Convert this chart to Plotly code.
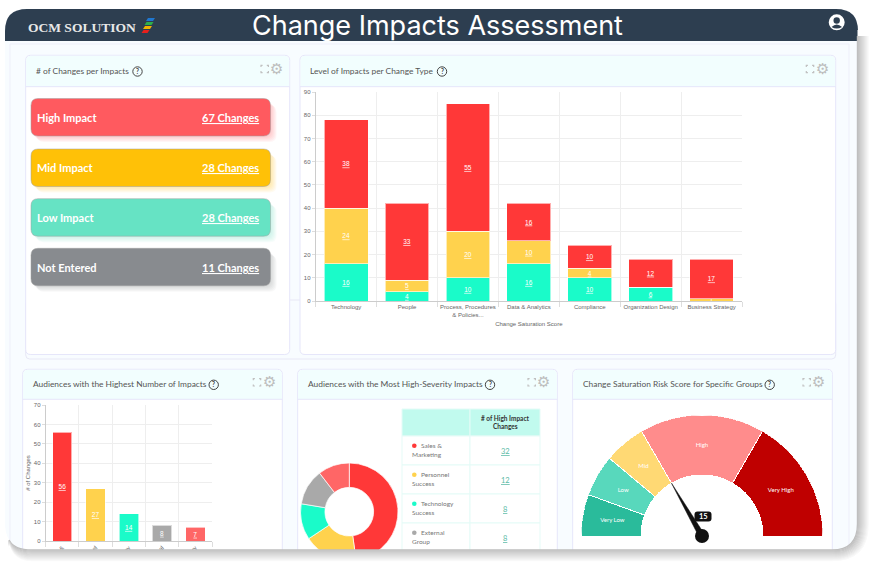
import plotly.graph_objects as go

W, H = 869, 562
RED, YELLOW, TEAL, GRAY, PINK = "#ff3838", "#ffd24d", "#1afbc9", "#a9a9a9", "#ff6666"
FONT = "Lato, sans-serif"

# KPI cards
card_labels = ["High Impact", "Mid Impact", "Low Impact", "Not Entered"]
card_counts = [67, 28, 28, 11]
card_colors = ["#ff5a5f", "#ffc107", "#66e3c4", "#888b8f"]

# stacked chart
change_types = ["Technology", "People", "Process, Procedures<br>& Policies...", "Data & Analytics",
                "Compliance", "Organization Design", "Business Strategy"]
low_impact = [16, 4, 10, 16, 10, 6, 0]
mid_impact = [24, 5, 20, 10, 4, 0, 1]
high_impact = [38, 33, 55, 16, 10, 12, 17]

# audience bars
audiences = ["Sales &", "Personnel", "Technology", "External", "Treasury"]
audience_changes = [56, 27, 14, 8, 7]

# donut and its table
severity_first = ["Sales &", "Personnel", "Technology", "External"]
severity_second = ["Marketing", "Success", "Success", "Group"]
severity_counts = [32, 12, 8, 8, 7]
severity_colors = [RED, YELLOW, TEAL, GRAY, PINK]

# gauge
band_names = ["Very Low", "Low", "Mid", "High", "Very High"]
band_starts = [0, 5, 10, 15, 30]
band_ends = [5, 10, 15, 30, 45]
band_colors = ["#2abb9b", "#58d8bc", "#ffd974", "#ff8c8c", "#bf0000"]
gauge_value = 15
gauge_max = 45


def px(x):
    return x / W


def py(y):
    return 1 - y / H


def rrect(x0, y0, x1, y1, r, r_bottom=None):
    rb = r if r_bottom is None else r_bottom
    X = [px(v) for v in (x0, x0 + r, x1 - r, x1)]
    Y = [py(v) for v in (y0, y0 + r)]
    Xb = [px(v) for v in (x0, x0 + rb, x1 - rb, x1)]
    Yb = [py(v) for v in (y1 - rb, y1)]
    p = f"M {X[1]} {Y[0]} L {X[2]} {Y[0]} Q {X[3]} {Y[0]} {X[3]} {Y[1]} "
    p += f"L {Xb[3]} {Yb[0]} Q {Xb[3]} {Yb[1]} {Xb[2]} {Yb[1]} "
    p += f"L {Xb[1]} {Yb[1]} Q {Xb[0]} {Yb[1]} {Xb[0]} {Yb[0]} "
    p += f"L {X[0]} {Y[1]} Q {X[0]} {Y[0]} {X[1]} {Y[0]} Z"
    return p


def box(x0, y0, x1, y1, r=0, fill="white", line="rgba(0,0,0,0)", lw=1, layer="below", rb=None):
    return dict(type="path", path=rrect(x0, y0, x1, y1, r, rb), xref="paper", yref="paper",
                fillcolor=fill, line=dict(color=line, width=lw), layer=layer)


def circle(cx, cy, r, fill="rgba(0,0,0,0)", line="rgba(0,0,0,0)", lw=1, layer="below"):
    return dict(type="circle", xref="paper", yref="paper", x0=px(cx - r), x1=px(cx + r),
                y0=py(cy + r), y1=py(cy - r), fillcolor=fill, line=dict(color=line, width=lw), layer=layer)


def label(x, y, text, size=9, color="#555", anchor="left", font=FONT, **kw):
    # annotations carry a little padding, take it back so text lands where it was measured
    shift = {"left": -2, "right": 1.5, "center": 0}[anchor]
    return dict(x=px(x + shift), y=py(y), xref="paper", yref="paper", text=text, showarrow=False,
                xanchor=anchor, yanchor="middle", font=dict(size=size, color=color, family=font), **kw)


def slanted(x, y, w, color):
    p = f"M {px(x + 2)} {py(y)} L {px(x + w + 2)} {py(y)} L {px(x + w)} {py(y + 3)} L {px(x)} {py(y + 3)} Z"
    return dict(type="path", path=p, xref="paper", yref="paper", fillcolor=color,
                line=dict(color=color, width=0), layer="below")


shapes, notes = [], []

# main frame
shapes.append(box(5, 9, 858, 570, 22, fill="#f8fcff", rb=0))
shapes.append(box(10, 44, 849, 570, 0, fill="#f8fcff", line="#eeeffa"))
shapes.append(box(5, 9, 858, 41, 22, fill="#2d3e50", rb=0))
notes.append(label(28, 27, "<b>OCM SOLUTION</b>", 13.5, "#e8e8e8", font="Liberation Serif"))
notes.append(label(437.5, 25, "Change Impacts Assessment", 27, "white", "center", font="Inter, sans-serif"))
for lx, ly, lw_, lc in [(146, 18, 7, "#1f77d0"), (144.5, 22, 7, "#2eb04a"), (143, 26, 7, "#f0b400"), (141.5, 30, 6, "#e8201c")]:
    shapes.append(slanted(lx, ly, lw_, lc))
shapes.append(circle(836.7, 22.3, 8, fill="white"))
shapes.append(circle(836.7, 20.5, 3.2, fill="#2d3e50"))
shapes.append(dict(type="path", xref="paper", yref="paper", fillcolor="#2d3e50", line=dict(width=0), layer="below",
                   path=f"M {px(831.5)} {py(27)} Q {px(836.7)} {py(22)} {px(842)} {py(27)} Q {px(836.7)} {py(30)} {px(831.5)} {py(27)} Z"))

# panels: x0, y0, x1, y1, header bottom, title, help x
panels = [
    (25.7, 55.3, 289.7, 354.5, 86.7, "# of Changes per Impacts", 137.5, 264.7),
    (300, 55.3, 835.7, 354.5, 86.7, "Level of Impacts per Change Type", 442, 810),
    (22.7, 369.3, 282.3, 570, 399.3, "Audiences with the Highest Number of Impacts", 213.7, 257),
    (297.7, 369.3, 557.3, 570, 399.3, "Audiences with the Most High-Severity Impacts", 490, 531.7),
    (572.7, 369.3, 832.3, 570, 399.3, "Change Saturation Risk Score for Specific Groups", 769.7, 806.7),
]
shapes.append(box(25.7, 300, 835.7, 359, 4, fill="#f8fcff", line="#e8e8f6"))
for x0, y0, x1, y1, hb, title, qx, fx in panels:
    shapes.append(box(x0, y0, x1, y1, 5, fill="white", line="#e6e6fa"))
    shapes.append(box(x0 + 0.5, y0 + 0.5, x1 - 0.5, hb, 5, fill="#f2fefe", rb=0))
    shapes.append(dict(type="line", xref="paper", yref="paper", x0=px(x0), x1=px(x1), y0=py(hb), y1=py(hb),
                       line=dict(color="#e6e6fa", width=1), layer="below"))
    ty = (y0 + hb) / 2
    notes.append(label(x0 + 10, ty, title, 8.4, "#555"))
    shapes.append(circle(qx, ty + 0.5, 4.7, line="#444"))
    notes.append(label(qx, ty + 0.5, "<b>?</b>", 6.5, "#444", "center"))
    # fullscreen corners and gear
    fy = ty - 2
    b, c = 3.7, 1.6
    corners = ""
    for sx in (-1, 1):
        for sy in (-1, 1):
            corners += (f"M {px(fx + sx * (b - c))} {py(fy + sy * b)} L {px(fx + sx * b)} {py(fy + sy * b)} "
                        f"L {px(fx + sx * b)} {py(fy + sy * (b - c))} ")
    shapes.append(dict(type="path", path=corners, xref="paper", yref="paper", layer="below",
                       line=dict(color="#c0c0c0", width=1.2)))
    notes.append(label(fx + 12, fy, "\u2699", 15, "#bdbdbd", "center", font="DejaVu Sans"))

# KPI cards
card_tops = [98.5, 149, 198.7, 248.3]
for name, n, col, top in zip(card_labels, card_counts, card_colors, card_tops):
    for k in range(6, 0, -1):
        shapes.append(box(31 + k, top + k + 1, 270.5 + k, top + 37.5 + k, 7, fill=col, layer="below"))
        shapes[-1]["opacity"] = 0.05
    shapes.append(box(31, top, 270.5, top + 37.5, 7, fill=col, line="rgba(160,160,160,0.5)"))
    notes.append(label(37, top + 18.7, f"<b>{name}</b>", 11, "white"))
    notes.append(label(259.5, top + 18.7, f"<b><u>{n} Changes</u></b>", 11, "white", "right"))

# table next to the donut
shapes.append(box(402, 409, 470, 436, fill="#c1faee", line="#e5fbf7"))
shapes.append(box(470, 409, 540, 436, fill="#c1faee", line="#e5fbf7"))
notes.append(label(505, 418, "<b># of High Impact</b>", 6.5, "#333", "center"))
notes.append(label(505, 426.3, "<b>Changes</b>", 6.5, "#333", "center"))
row_h = 29
for i, (first, second, n, col) in enumerate(zip(severity_first, severity_second, severity_counts, severity_colors)):
    top = 436 + i * row_h
    shapes.append(box(402, top, 470, top + row_h, fill="white", line="#e5fbf7"))
    shapes.append(box(470, top, 540, top + row_h, fill="white", line="#e5fbf7"))
    shapes.append(circle(414.3, top + 9.7, 2.3, fill=col))
    notes.append(label(421, top + 9.7, first, 6.5, "#777"))
    notes.append(label(412, top + 18.7, second, 6.5, "#777"))
    notes.append(label(505, top + 15, f"<u>{n}</u>", 7.5, "#58b9a5", "center"))

# gauge value box
shapes.append(box(694.5, 511.5, 711.5, 521.5, 3, fill="#111", layer="above"))
notes.append(label(703, 516.7, "<b>15</b>", 7.5, "white", "center"))

# bottom and right edge of the frame: mask plus fading shadow
mask = (f"M {px(0)} {py(562)} L {px(0)} {py(526)} L {px(5)} {py(526)} Q {px(7)} {py(550)} {px(32)} {py(550)} "
        f"L {px(832)} {py(550)} Q {px(857.5)} {py(550)} {px(857.5)} {py(524)} L {px(857.5)} {py(30)} "
        f"L {px(869)} {py(30)} L {px(869)} {py(562)} Z")
shapes.append(dict(type="path", path=mask, xref="paper", yref="paper", fillcolor="white",
                   line=dict(width=0), layer="above"))
for i in range(13):
    g = 190 + int(65 * i / 12)
    edge = (f"M {px(9)} {py(540 + i * 0.5)} Q {px(14)} {py(550 + i)} {px(32)} {py(550 + i)} L {px(832)} {py(550 + i)} "
            f"Q {px(857.5 + i)} {py(550 + i)} {px(857.5 + i)} {py(524)} L {px(857.5 + i)} {py(36)}")
    shapes.append(dict(type="path", path=edge, xref="paper", yref="paper", layer="above",
                       line=dict(color=f"rgb({g},{g},{g})", width=1.4)))

fig = go.Figure()


def underlined(vals):
    return [f"<u>{v}</u>" if v else "" for v in vals]


for vals, col, name in [(low_impact, TEAL, "Low"), (mid_impact, YELLOW, "Mid"), (high_impact, RED, "High")]:
    fig.add_trace(go.Bar(
        x=change_types, y=vals, name=name, width=0.72, text=underlined(vals),
        marker=dict(color=col, line=dict(color="rgba(255,255,255,0.6)", width=1)),
        textposition="inside", insidetextanchor="middle", textangle=0, constraintext="none",
        insidetextfont=dict(size=6.5, color="white", family="Liberation Sans"),
        xaxis="x", yaxis="y", hoverinfo="skip",
    ))

fig.add_trace(go.Bar(
    x=audiences, y=audience_changes, width=0.58, text=underlined(audience_changes),
    marker=dict(color=severity_colors, line=dict(color="rgba(255,255,255,0.6)", width=1)),
    textposition="inside", insidetextanchor="middle", textangle=0, constraintext="none",
    insidetextfont=dict(size=6.5, color="white", family="Liberation Sans"),
    xaxis="x2", yaxis="y2", hoverinfo="skip",
))

fig.add_trace(go.Pie(
    values=severity_counts, marker=dict(colors=severity_colors, line=dict(color="white", width=0.7)),
    hole=0.5, sort=False, direction="clockwise", rotation=0, textinfo="none", hoverinfo="skip",
    domain=dict(x=[px(300.6), px(398)], y=[py(560.4), py(463)]), showlegend=False,
))

scale = 180 / gauge_max
band_mids = [(a + b) / 2 * scale for a, b in zip(band_starts, band_ends)]
fig.add_trace(go.Barpolar(
    theta=band_mids, width=[(b - a) * scale for a, b in zip(band_starts, band_ends)],
    r=[60] * 5, base=61, marker=dict(color=band_colors, line=dict(color="white", width=1)),
    hoverinfo="skip", showlegend=False,
))
fig.add_trace(go.Scatterpolar(
    theta=band_mids, r=[91] * 5, mode="text", text=band_names, cliponaxis=False,
    textfont=dict(size=6, color="white", family=FONT), hoverinfo="skip", showlegend=False,
))
needle = gauge_value * scale
fig.add_trace(go.Scatterpolar(
    theta=[needle, needle + 90, needle - 90, needle], r=[61, 3, 3, 61], mode="lines", fill="toself",
    fillcolor="#111", line=dict(color="#111", width=0.5), cliponaxis=False, hoverinfo="skip", showlegend=False,
))
fig.add_trace(go.Scatterpolar(
    theta=[needle], r=[0], mode="markers", marker=dict(size=14, color="#111"), cliponaxis=False,
    hoverinfo="skip", showlegend=False,
))

tickfont = dict(size=6, color="#666", family="Liberation Sans")
title_font = dict(size=6, color="#666", family="Liberation Sans")
axis_common = dict(showgrid=True, gridcolor="#eeeeee", gridwidth=1, tickfont=tickfont, ticks="outside",
                   tickcolor="#dddddd", showline=True, linecolor="#cccccc", linewidth=1, zeroline=False)

fig.update_layout(
    width=W, height=H, margin=dict(l=0, r=0, t=0, b=0, autoexpand=False), autosize=False,
    paper_bgcolor="white", plot_bgcolor="rgba(0,0,0,0)", showlegend=False, barmode="stack",
    font=dict(family=FONT),
    xaxis=dict(domain=[px(315.7), px(742)], anchor="y", tickson="boundaries", tickangle=0, ticklen=5,
               title=dict(text="Change Saturation Score", font=title_font, standoff=4), **axis_common),
    yaxis=dict(domain=[py(301), py(92)], anchor="x", range=[0, 90], dtick=10, ticklen=3, **axis_common),
    xaxis2=dict(domain=[px(45.7), px(212)], anchor="y2", tickson="boundaries", tickangle=-45, ticklen=5, **axis_common),
    yaxis2=dict(domain=[py(541), py(405)], anchor="x2", range=[0, 70], dtick=10, ticklen=3,
                title=dict(text="# of Changes", font=title_font, standoff=2), **axis_common),
    polar=dict(domain=dict(x=[px(581), px(823)], y=[py(536), py(415)]), sector=[0, 180], bgcolor="rgba(0,0,0,0)",
               radialaxis=dict(visible=False, range=[0, 121]),
               angularaxis=dict(visible=False, direction="clockwise", rotation=180, thetaunit="degrees")),
    shapes=shapes, annotations=notes,
)

fig.write_html("out.html", config=dict(displayModeBar=False), post_script="document.body.style.margin='0';")
